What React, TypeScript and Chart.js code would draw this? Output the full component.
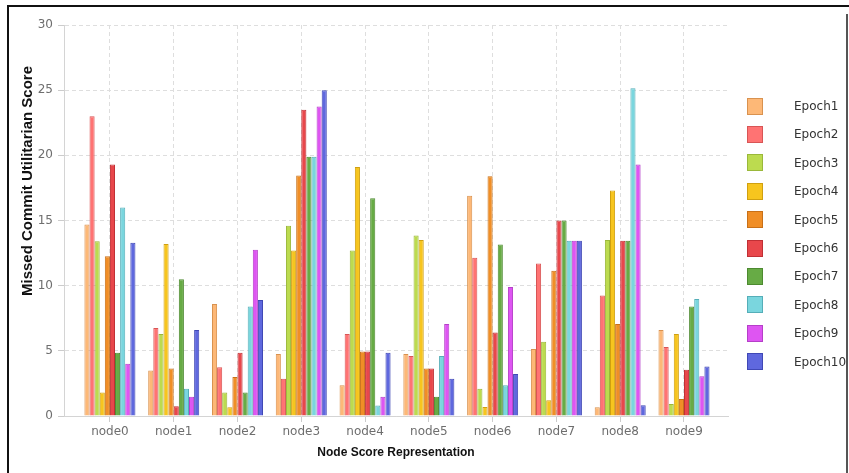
import React, { useEffect, useRef } from "react";
import { Chart, registerables } from "chart.js";

Chart.register(...registerables);

const categories = ["node0", "node1", "node2", "node3", "node4", "node5", "node6", "node7", "node8", "node9"];
const seriesNames = ["Epoch1", "Epoch2", "Epoch3", "Epoch4", "Epoch5", "Epoch6", "Epoch7", "Epoch8", "Epoch9", "Epoch10"];

const epoch1 = [14.7, 3.5, 8.6, 4.75, 2.35, 4.75, 16.9, 5.15, 0.68, 6.6];
const epoch2 = [23.0, 6.75, 3.75, 2.85, 6.3, 4.6, 12.15, 11.7, 9.25, 5.3];
const epoch3 = [13.4, 6.3, 1.8, 14.6, 12.7, 13.85, 2.1, 5.7, 13.5, 0.93];
const epoch4 = [1.8, 13.2, 0.67, 12.7, 19.1, 13.5, 0.7, 1.2, 17.3, 6.3];
const epoch5 = [12.25, 3.65, 3.0, 18.45, 4.95, 3.65, 18.4, 11.15, 7.05, 1.3];
const epoch6 = [19.3, 0.75, 4.85, 23.5, 4.95, 3.65, 6.4, 15.0, 13.45, 3.55];
const epoch7 = [4.85, 10.5, 1.8, 19.9, 16.7, 1.47, 13.15, 15.0, 13.45, 8.4];
const epoch8 = [16.0, 2.1, 8.4, 19.9, 0.8, 4.6, 2.35, 13.45, 25.15, 8.97];
const epoch9 = [4.0, 1.47, 12.75, 23.75, 1.47, 7.05, 9.9, 13.45, 19.3, 3.05];
const epoch10 = [13.3, 6.6, 8.9, 25.0, 4.85, 2.85, 3.23, 13.45, 0.83, 3.8];

const seriesValues = [epoch1, epoch2, epoch3, epoch4, epoch5, epoch6, epoch7, epoch8, epoch9, epoch10];

const fillColors = ["#FDB877", "#FF7373", "#BCDB4F", "#F7C51E", "#F08E26", "#E8474B", "#67AB45", "#7AD6DE", "#DE55F2", "#5F68DE"];
const borderColors = ["#D9924F", "#D85555", "#9AB83A", "#D0A010", "#C87018", "#C03035", "#4D8A30", "#55AEB8", "#B53FC8", "#4048B5"];

const yTicks = [0, 5, 10, 15, 20, 25, 30];

export default function App() {
  const canvasRef = useRef<HTMLCanvasElement | null>(null);

  useEffect(() => {
    document.body.style.margin = "0";
    const canvas = canvasRef.current;
    if (!canvas) return;
    const chart = new Chart(canvas, {
      type: "bar",
      data: {
        datasets: seriesValues.map((vals, k) => ({
          label: seriesNames[k],
          data: vals.map((v, i) => ({ x: i, y: v })),
          backgroundColor: fillColors[k],
          borderColor: borderColors[k],
          borderWidth: 1,
          categoryPercentage: 0.8,
          barPercentage: 1.0,
        })),
      },
      options: {
        responsive: false,
        animation: false,
        layout: { padding: { top: 25, right: 121, left: 0, bottom: 0 } },
        plugins: { legend: { display: false }, tooltip: { enabled: false } },
        scales: {
          x: {
            type: "linear",
            min: -0.72,
            max: 9.69,
            offset: false,
            grid: {
              offset: false,
              color: "#dedede",
              tickColor: "#cccccc",
              tickLength: 6,
              tickBorderDash: [],
            },
            border: { display: true, color: "#d4d4d4", width: 1, dash: [4, 3] },
            ticks: {
              stepSize: 1,
              includeBounds: false,
              autoSkip: false,
              maxRotation: 0,
              color: "#6e6e6e",
              padding: 3,
              font: { family: "DejaVu Sans", size: 12 },
              callback: (value: any) => {
                const v = Number(value);
                return Number.isInteger(v) && v >= 0 && v < categories.length ? categories[v] : "";
              },
            },
            title: {
              display: true,
              text: "Node Score Representation",
              color: "#111111",
              font: { family: "Liberation Sans", size: 12, weight: "bold" },
              padding: { top: 0, bottom: 12.8 },
            },
            afterFit: (scale: any) => {
              scale.height = 57;
            },
          },
          y: {
            min: 0,
            max: 30,
            afterBuildTicks: (scale: any) => {
              scale.ticks = yTicks.map((v) => ({ value: v }));
            },
            grid: {
              color: "#dedede",
              tickColor: "#cccccc",
              tickLength: 6,
              tickBorderDash: [],
            },
            border: { display: true, color: "#d4d4d4", width: 1, dash: [4, 3] },
            ticks: {
              color: "#6e6e6e",
              padding: 5,
              font: { family: "DejaVu Sans", size: 12 },
            },
            title: { display: false },
            afterFit: (scale: any) => {
              scale.width = 64;
            },
          },
        },
      } as any,
    });
    return () => chart.destroy();
  }, []);

  return (
    <div style={{ position: "relative", width: 849, height: 473, overflow: "hidden", background: "#ffffff" }}>
      <canvas ref={canvasRef} width={849} height={473} style={{ position: "absolute", left: 0, top: 0 }} />
      <div style={{ position: "absolute", left: 7, top: 5, width: 842, height: 470, borderLeft: "2px solid #111", borderTop: "2px solid #111" }} />
      <div style={{ position: "absolute", left: 846, top: 14, width: 2, height: 460, background: "#555" }} />
      <div
        style={{
          position: "absolute",
          left: 27,
          top: 181,
          transform: "translate(-50%, -50%) rotate(-90deg)",
          whiteSpace: "nowrap",
          fontFamily: "Liberation Sans",
          fontWeight: "bold",
          fontSize: 15,
          color: "#111",
          lineHeight: "18px",
        }}
      >
        Missed Commit Utilitarian Score
      </div>
      {seriesNames.map((name, k) => (
        <div key={name} style={{ position: "absolute", left: 747, top: 106 + k * 28.4 - 9, height: 18, display: "flex", alignItems: "center" }}>
          <div style={{ width: 14, height: 15, background: fillColors[k], border: `1px solid ${borderColors[k]}` }} />
          <div style={{ marginLeft: 31, fontFamily: "DejaVu Sans", fontSize: 12, color: "#333", whiteSpace: "nowrap" }}>{name}</div>
        </div>
      ))}
    </div>
  );
}
